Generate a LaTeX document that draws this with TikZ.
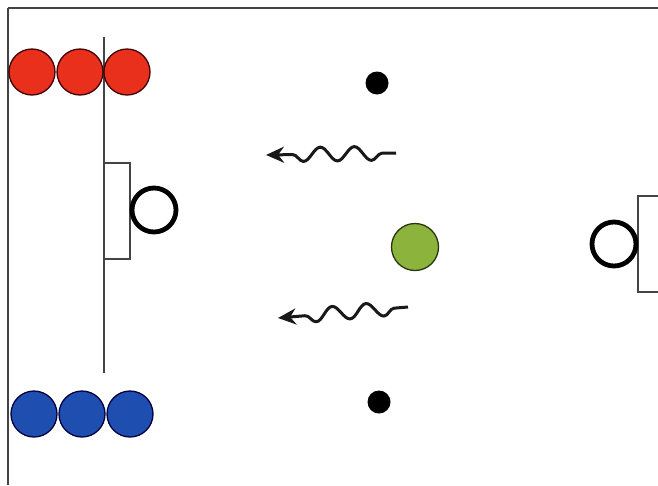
\documentclass[tikz,border=0pt]{standalone}
\usetikzlibrary{decorations.pathmorphing,arrows.meta}
\definecolor{redp}{HTML}{E8301C}
\definecolor{bluep}{HTML}{1E4FB0}
\definecolor{greenb}{HTML}{8CB43C}
\definecolor{linec}{HTML}{444444}
\tikzset{
  x=1pt,y=-1pt,
  player/.style={circle,line width=1.3pt,minimum size=46pt,inner sep=0pt},
  redplayer/.style={player,fill=redp,draw=black!75!red},
  blueplayer/.style={player,fill=bluep,draw=black!75!blue},
  keeper/.style={circle,draw=black,line width=4.8pt,minimum size=44pt,inner sep=0pt,fill=white},
  cone/.style={circle,fill=black,minimum size=23pt,inner sep=0pt},
  ball/.style={circle,fill=greenb,draw=black!70!greenb,line width=1.3pt,minimum size=47pt,inner sep=0pt},
  goalbox/.style={draw=linec,line width=1.2pt,fill=white},
  fieldline/.style={draw=linec,line width=1.5pt},
  wave/.style={line width=3pt,draw=black!90,decorate,line join=round,
    decoration={snake,segment length=34pt,amplitude=7pt,pre length=14pt,post length=16pt},
    -{Stealth[length=18pt,width=16pt]}}
}
\begin{document}
\begin{tikzpicture}
\useasboundingbox[fill=white] (0,0) rectangle (658,485);
% frame
\draw[fieldline] (8,8) -- (658,8);
\draw[fieldline] (8,8) -- (8,485);
% left goal line
\draw[fieldline] (104,37) -- (104,373);
% goals
\draw[goalbox] (104,163) rectangle (130,259);
\node[keeper] (k1) at (154,210) {};
\draw[goalbox] (638,196) rectangle (662,292);
\node[keeper] (k2) at (614,244) {};
% red players
\node[redplayer] (r1) at (32,72) {};
\node[redplayer] (r2) at (80,72) {};
\node[redplayer] (r3) at (127,72) {};
% blue players
\node[blueplayer] (b1) at (34,414) {};
\node[blueplayer] (b2) at (82,414) {};
\node[blueplayer] (b3) at (130,414) {};
% cones
\node[cone] (c1) at (377,83) {};
\node[cone] (c2) at (379,402) {};
% ball
\node[ball] (ball) at (415,247) {};
% wavy arrows
\coordinate (w1s) at (396,153);
\coordinate (w1e) at (266,155);
\coordinate (w2s) at (408,307);
\coordinate (w2e) at (278,318);
\draw[wave] (w1s) -- (w1e);
\draw[wave] (w2s) -- (w2e);
\end{tikzpicture}
\end{document}
